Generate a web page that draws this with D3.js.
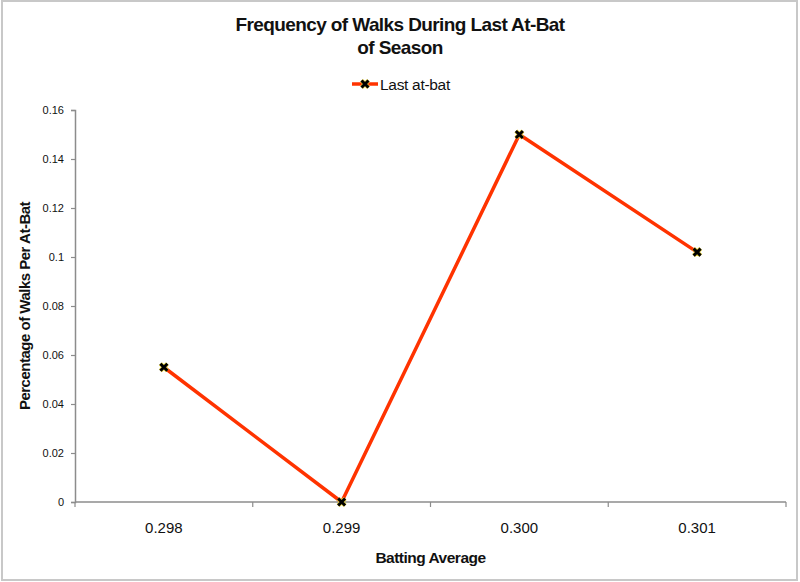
<!DOCTYPE html>
<html>
<head>
<meta charset="utf-8">
<script src="https://cdn.jsdelivr.net/npm/d3@7"></script>
<style>
  body { margin: 0; background: #fff; }
  svg { display: block; font-family: "Liberation Sans", Arial, sans-serif; }
</style>
</head>
<body>
<div id="chart"></div>
<script>
const categories = ['0.298', '0.299', '0.300', '0.301'];
const lastAtBat = [0.055, 0, 0.15, 0.102];
const yTicks = [0, 0.02, 0.04, 0.06, 0.08, 0.1, 0.12, 0.14, 0.16];
const seriesName = 'Last at-bat';

const width = 800;
const height = 582;
const margin = { top: 110, right: 14, bottom: 80, left: 75 };

const svg = d3.select('#chart')
  .append('svg')
  .attr('width', width)
  .attr('height', height);

// outer frame
svg.append('rect')
  .attr('x', 2).attr('y', 1)
  .attr('width', width - 5).attr('height', height - 3)
  .attr('fill', '#fff')
  .attr('stroke', '#c8c8c8')
  .attr('stroke-width', 2);

const x = d3.scaleBand()
  .domain(categories)
  .range([margin.left, width - margin.right]);

const y = d3.scaleLinear()
  .domain([0, 0.16])
  .range([height - margin.bottom, margin.top]);

const axisColor = '#8c8c8c';

// y axis
const yAxis = svg.append('g')
  .attr('transform', `translate(${margin.left},0)`)
  .call(d3.axisLeft(y).tickValues(yTicks).tickSize(4).tickPadding(7)
    .tickFormat(d => d === 0 ? '0' : d3.format('')(+d.toFixed(2))));
yAxis.select('.domain').attr('stroke', axisColor).attr('stroke-width', 1.5);
yAxis.selectAll('.tick line').attr('stroke', axisColor).attr('stroke-width', 1.2);
yAxis.selectAll('.tick text')
  .attr('fill', '#111')
  .style('font-size', '11px');

// x axis with ticks between categories
const xAxisG = svg.append('g')
  .attr('transform', `translate(0,${height - margin.bottom})`);
xAxisG.append('line')
  .attr('x1', margin.left).attr('x2', width - margin.right)
  .attr('stroke', axisColor).attr('stroke-width', 1.5);
const bounds = categories.map(c => x(c)).concat([x(categories[categories.length - 1]) + x.bandwidth()]);
xAxisG.selectAll('.xtick')
  .data(bounds)
  .enter().append('line')
  .attr('x1', d => d).attr('x2', d => d)
  .attr('y1', 0).attr('y2', 5)
  .attr('stroke', axisColor).attr('stroke-width', 1.2);
xAxisG.selectAll('.xlabel')
  .data(categories)
  .enter().append('text')
  .attr('x', d => x(d) + x.bandwidth() / 2)
  .attr('y', 31)
  .attr('text-anchor', 'middle')
  .attr('fill', '#111')
  .style('font-size', '15px')
  .text(d => d);

// series line
const line = d3.line()
  .x((d, i) => x(categories[i]) + x.bandwidth() / 2)
  .y(d => y(d));

svg.append('path')
  .datum(lastAtBat)
  .attr('d', line)
  .attr('fill', 'none')
  .attr('stroke', '#ff3300')
  .attr('stroke-width', 3.5)
  .attr('stroke-linejoin', 'round');

function drawMarker(g, cx, cy) {
  const s = 3.5;
  g.append('path')
    .attr('d', `M${cx - s},${cy - s}L${cx + s},${cy + s}M${cx - s},${cy + s}L${cx + s},${cy - s}`)
    .attr('stroke', '#e8d23a').attr('stroke-width', 4.2);
  g.append('path')
    .attr('d', `M${cx - s},${cy - s}L${cx + s},${cy + s}M${cx - s},${cy + s}L${cx + s},${cy - s}`)
    .attr('stroke', '#000').attr('stroke-width', 3);
}

const markers = svg.append('g');
lastAtBat.forEach((v, i) => {
  drawMarker(markers, x(categories[i]) + x.bandwidth() / 2, y(v));
});

// title
const title = svg.append('text')
  .attr('text-anchor', 'middle')
  .attr('font-weight', 'bold')
  .style('font-size', '19px')
  .style('letter-spacing', '-0.6px')
  .attr('fill', '#111');
title.append('tspan').attr('x', 400).attr('y', 31).text('Frequency of Walks During Last At-Bat');
title.append('tspan').attr('x', 400).attr('y', 54).text('of Season');

// legend
const legend = svg.append('g').attr('transform', 'translate(365,84)');
legend.append('line')
  .attr('x1', -13).attr('x2', 13)
  .attr('stroke', '#ff3300').attr('stroke-width', 3.5);
drawMarker(legend, 0, 0);
legend.append('text')
  .attr('x', 15).attr('y', 5.5)
  .attr('fill', '#111')
  .style('font-size', '15.5px')
  .style('letter-spacing', '-0.3px')
  .text(seriesName);

// axis titles
svg.append('text')
  .attr('x', (margin.left + width - margin.right) / 2)
  .attr('y', 563)
  .attr('text-anchor', 'middle')
  .attr('font-weight', 'bold')
  .style('font-size', '15.5px')
  .style('letter-spacing', '-0.5px')
  .attr('fill', '#111')
  .text('Batting Average');

svg.append('text')
  .attr('transform', `translate(30,${(margin.top + height - margin.bottom) / 2}) rotate(-90)`)
  .attr('text-anchor', 'middle')
  .attr('font-weight', 'bold')
  .style('font-size', '15px')
  .style('letter-spacing', '-0.5px')
  .attr('fill', '#111')
  .text('Percentage of Walks Per At-Bat');
</script>
</body>
</html>
